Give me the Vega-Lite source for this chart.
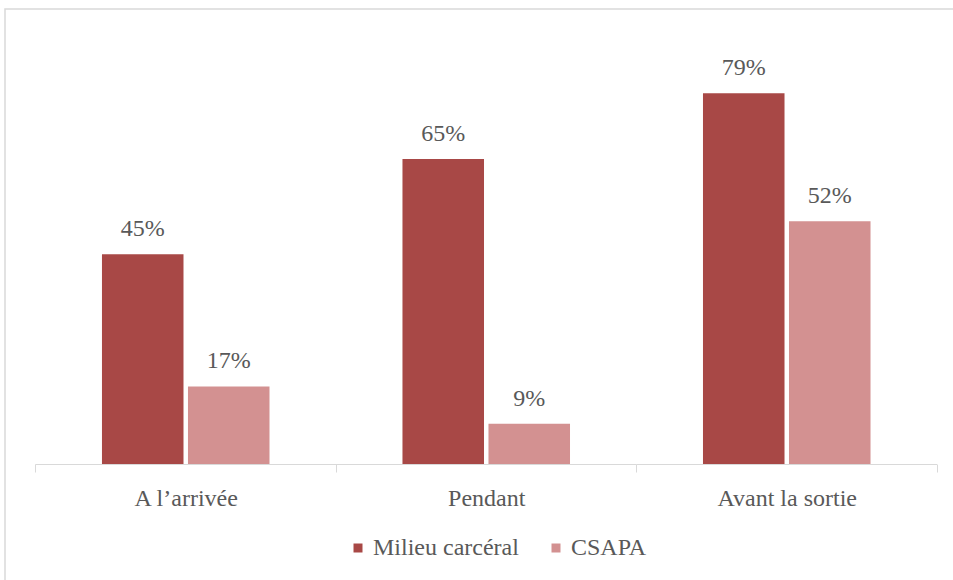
{
  "$schema": "https://vega.github.io/schema/vega-lite/v6.json",
  "width": 949,
  "height": 572,
  "autosize": {"type": "none"},
  "padding": {"left": 5, "top": 9, "right": -1, "bottom": -1},
  "background": "white",
  "config": {
    "view": {"stroke": "#d9d9d9", "strokeWidth": 1.5},
    "font": "'Liberation Serif', 'DejaVu Serif', serif"
  },
  "data": {
    "values": [
      {"moment": "A l’arrivée", "lieu": "Milieu carcéral", "part": 0.449},
      {"moment": "A l’arrivée", "lieu": "CSAPA", "part": 0.166},
      {"moment": "Pendant", "lieu": "Milieu carcéral", "part": 0.653},
      {"moment": "Pendant", "lieu": "CSAPA", "part": 0.086},
      {"moment": "Avant la sortie", "lieu": "Milieu carcéral", "part": 0.794},
      {"moment": "Avant la sortie", "lieu": "CSAPA", "part": 0.52}
    ]
  },
  "encoding": {
    "x": {
      "field": "moment",
      "type": "nominal",
      "sort": ["A l’arrivée", "Pendant", "Avant la sortie"],
      "scale": {"domain": ["A l’arrivée", "Pendant", "Avant la sortie"], "paddingInner": 0, "paddingOuter": 0.079, "align": 0.642},
      "axis": {
        "title": null,
        "orient": "bottom",
        "offset": -117,
        "domain": false,
        "tickBand": "extent",
        "tickColor": "#d9d9d9",
        "tickSize": 8,
        "tickWidth": 1,
        "labelAngle": 0,
        "labelFont": "'Liberation Serif', 'DejaVu Serif', serif",
        "labelFontSize": 24,
        "labelColor": "#595959",
        "labelBaseline": "alphabetic",
        "labelPadding": 33
      }
    }
  },
  "layer": [
    {
      "mark": {"type": "bar"},
      "encoding": {
        "xOffset": {
          "field": "lieu",
          "type": "nominal",
          "sort": ["Milieu carcéral", "CSAPA"],
          "scale": {"paddingInner": 0.052, "paddingOuter": 0.773}
        },
        "y": {
          "field": "part",
          "type": "quantitative",
          "scale": {"domain": [-0.2505, 0.9743], "nice": false, "zero": false},
          "axis": null
        },
        "y2": {"datum": 0},
        "color": {
          "field": "lieu",
          "type": "nominal",
          "sort": ["Milieu carcéral", "CSAPA"],
          "scale": {"domain": ["Milieu carcéral", "CSAPA"], "range": ["#a84846", "#d39191"]},
          "legend": {
            "title": null,
            "orient": "none",
            "legendX": 341,
            "legendY": 527,
            "direction": "horizontal",
            "columns": 2,
            "padding": 0,
            "symbolType": "square",
            "symbolSize": 81,
            "symbolStrokeWidth": 0,
            "labelFont": "'Liberation Serif', 'DejaVu Serif', serif",
            "labelFontSize": 24,
            "labelColor": "#595959",
            "labelOffset": 3,
            "columnPadding": 25,
            "labelLimit": 400
          }
        }
      }
    },
    {
      "mark": {"type": "text", "baseline": "alphabetic", "dy": -18, "fontSize": 24, "font": "'Liberation Serif', 'DejaVu Serif', serif", "color": "#595959"},
      "encoding": {
        "xOffset": {
          "field": "lieu",
          "type": "nominal",
          "sort": ["Milieu carcéral", "CSAPA"],
          "scale": {"paddingInner": 0.052, "paddingOuter": 0.773}
        },
        "y": {"field": "part", "type": "quantitative"},
        "text": {"field": "part", "type": "quantitative", "format": ".0%"}
      }
    },
    {
      "data": {"values": [{"moment": "A l’arrivée"}, {"moment": "Pendant"}, {"moment": "Avant la sortie"}]},
      "mark": {"type": "bar", "color": "#d9d9d9", "width": {"band": 1}},
      "encoding": {
        "y": {"datum": 0, "type": "quantitative"},
        "y2": {"datum": -0.0021}
      }
    }
  ]
}
